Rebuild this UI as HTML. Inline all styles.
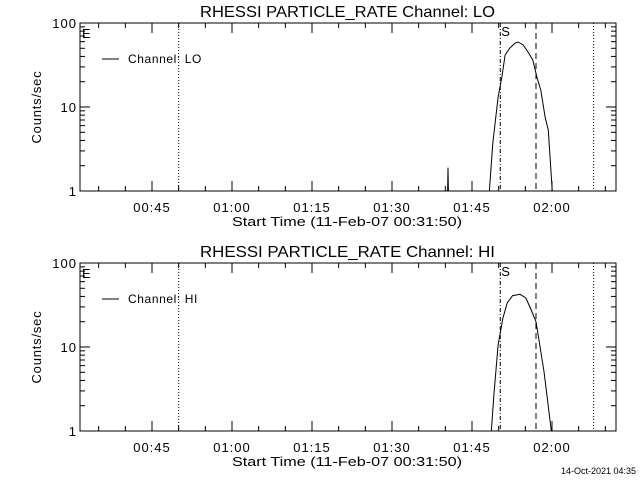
<!DOCTYPE html>
<html><head><meta charset="utf-8"><style>
body{margin:0;background:#fff}
svg{display:block;font-family:"Liberation Sans",sans-serif}
</style></head><body>
<svg id="c" width="640" height="480" xmlns="http://www.w3.org/2000/svg"></svg>
<script>
const tickTimes=[45,60,75,90,105,120];
const tickLabels=["00:45","01:00","01:15","01:30","01:45","02:00"];
const vlineTimes=[50,110.3,117,127.8];
const vlineDash=["1,2","4,2,1,2","6,4","1,2"];
const loTimes=[99.9,100.35,100.5,100.65,101.1,108.2,108.9,109.9,110.6,111.2,112.1,113.1,113.6,114.6,115.5,116.4,117.2,117.9,118.7,119.3,120.1,120.4];
const loValues=[0.5,0.5,1.9,0.5,0.5,0.9,3.7,13.2,22.8,41.6,50.4,57.8,59.4,54.7,45.2,36.3,22.2,15.9,7.6,5.3,0.9,0.5];
const hiTimes=[108.3,108.6,109.1,109.9,110.8,111.6,112.6,114.0,115.1,116.1,117.0,117.6,118.5,119.8,119.9,120.2];
const hiValues=[0.5,0.95,2.7,10.6,22.1,33.4,40.8,42.4,38.3,27.6,20,11.6,5.1,1.1,0.95,0.5];
const svg=document.getElementById('c');
const NS='http://www.w3.org/2000/svg';
function mk(tag,attrs,parent){const e=document.createElementNS(NS,tag);for(const k in attrs)e.setAttribute(k,attrs[k]);(parent||svg).appendChild(e);return e;}
const L=80,R=616;
const xs=t=>232+(t-60)*16/3;
function panel(top,title,label,times,vals,idx){
  const bot=top+168;
  const ys=v=>bot-Math.log10(v)*84;
  const g=mk('g',{});
  
  
  const cp=mk('clipPath',{id:'cp'+idx},g);mk('rect',{x:L,y:top,width:R-L,height:168},cp);
  const t=mk('text',{x:200,y:top-6,'font-size':16,textLength:295,lengthAdjust:'spacingAndGlyphs'},g);t.textContent=title;
  
  const fr=mk('rect',{x:L,y:top,width:R-L,height:168,fill:'none',stroke:'#000'},g);
  
  for(let d=0;d<2;d++)for(let m=1;m<10;m++){const v=Math.pow(10,d)*m;const y=ys(v);const len=m==1?10:5;
    mk('line',{x1:L,x2:L+len,y1:y,y2:y,stroke:'#000'},g);mk('line',{x1:R,x2:R-len,y1:y,y2:y,stroke:'#000'},g);}
  [1,10,100].forEach(v=>{const tx=mk('text',{x:L-3,y:ys(v)+5,'text-anchor':'end','font-size':13,'letter-spacing':1},g);tx.textContent=v;
    });
  const yt=mk('text',{x:0,y:0,'text-anchor':'middle','font-size':13,'letter-spacing':0.8,transform:`translate(41,${top+84}) rotate(-90)`},g);yt.textContent='Counts/sec';
  
  for(let tm=35;tm<=130;tm+=5){const x=xs(tm);const len=(tm%15==0)?10:5;
    mk('line',{x1:x,x2:x,y1:bot,y2:bot-len,stroke:'#000'},g);mk('line',{x1:x,x2:x,y1:top,y2:top+len,stroke:'#000'},g);}
  tickTimes.forEach((tm,i)=>{const tx=mk('text',{x:xs(tm),y:bot+21,'text-anchor':'middle','font-size':13,'letter-spacing':1},g);tx.textContent=tickLabels[i];
    });
  const xt=mk('text',{x:232,y:bot+35,'font-size':13,textLength:230,lengthAdjust:'spacingAndGlyphs'},g);xt.textContent='Start Time (11-Feb-07 00:31:50)';
  
  vlineTimes.forEach((tm,i)=>{const l=mk('line',{x1:xs(tm),x2:xs(tm),y1:top,y2:bot,stroke:'#000','stroke-dasharray':vlineDash[i]},g);
    });
  const e=mk('text',{x:82,y:top+15,'font-size':13},g);e.textContent='E';
  const s=mk('text',{x:xs(vlineTimes[1])+1,y:top+13,'font-size':13},g);s.textContent='S';
  const ll=mk('line',{x1:102,x2:119,y1:top+36,y2:top+36,stroke:'#000'},g);
  
  const lt=mk('text',{x:128,y:top+40,'font-size':12,'letter-spacing':0.6},g);lt.textContent='Channel: '+label;
  
  const pts=times.map((tm,i)=>xs(tm).toFixed(1)+','+ys(vals[i]).toFixed(1)).join(' ');
  const pl=mk('polyline',{points:pts,fill:'none',stroke:'#000','stroke-width':1,'clip-path':`url(#cp${idx})`},g);
  
}
panel(23,'RHESSI PARTICLE_RATE Channel: LO','LO',loTimes,loValues,1);
panel(263,'RHESSI PARTICLE_RATE Channel: HI','HI',hiTimes,hiValues,2);
const ds=mk('text',{x:636,y:474,'text-anchor':'end','font-size':9});ds.textContent='14-Oct-2021 04:35';

</script>
</body></html>
